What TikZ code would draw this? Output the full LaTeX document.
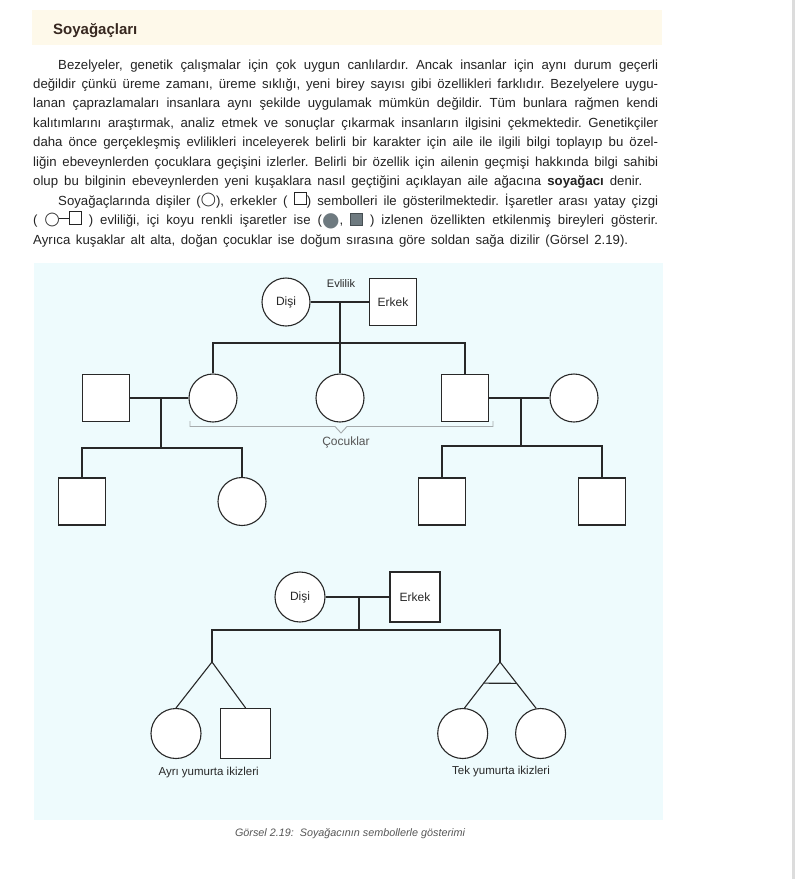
\documentclass[tikz,border=0pt]{standalone}
\usepackage{fontspec}
\setmainfont{Liberation Sans}
\newfontfamily\symfont{DejaVu Sans}
\frenchspacing

\definecolor{bandcream}{RGB}{254,249,234}
\definecolor{skycyan}{RGB}{238,251,253}
\definecolor{bodytext}{RGB}{35,35,35}
\definecolor{titlebrown}{RGB}{55,40,32}
\definecolor{symgrey}{RGB}{110,122,128}
\definecolor{symedge}{RGB}{70,78,82}
\definecolor{pedline}{RGB}{40,40,40}
\definecolor{bracegrey}{RGB}{165,170,172}
\definecolor{capgrey}{RGB}{85,85,85}
\definecolor{edgegrey}{RGB}{220,220,220}

\newcommand{\bodyfont}{\fontsize{13.2}{19.5}\selectfont}
\newcommand{\opencirc}{\raisebox{1.5pt}{\symfont\fontsize{13.5}{14}\selectfont\char"25EF}}
\newcommand{\fullcirc}{\raisebox{-2pt}{\symfont\fontsize{20}{20}\selectfont\color{symgrey}\char"25CF}}
\newcommand{\sqbox}[1]{\hbox{\color{#1}\vrule width 0.9pt\vbox{\hrule height 0.9pt\hbox to 11.5pt{\hfil}\vskip 11.5pt\hrule height 0.9pt}\vrule width 0.9pt}}
\newcommand{\opensq}{\sqbox{bodytext}}
\newcommand{\fullsq}{\raisebox{-1pt}{\hbox{\color{symedge}\vrule width 0.9pt\vbox{\hrule height 0.9pt\hbox{\color{symgrey}\vrule width 11pt height 11pt}\hrule height 0.9pt}\vrule width 0.9pt}}}
\newcommand{\marrsym}{\opencirc\kern-1.2pt\rule[5.5pt]{10pt}{0.9pt}\opensq}

\begin{document}
\begin{tikzpicture}[x=1pt, y=-1pt,
  female/.style={draw=pedline, circle, fill=white, minimum size=48pt, inner sep=0pt, line width=1.1pt, font=\fontsize{12}{14}\selectfont, text=pedline},
  male/.style={draw=pedline, rectangle, fill=white, minimum size=47pt, inner sep=0pt, line width=1.1pt, font=\fontsize{12}{14}\selectfont, text=pedline},
  link/.style={draw=pedline, line width=1.1pt},
  pedlabel/.style={font=\fontsize{12}{14}\selectfont, text=pedline},
  textline/.style={anchor=base west, inner sep=0pt, font=\bodyfont, text=bodytext}]
\useasboundingbox (0,0) rectangle (800,879);
\fill[white] (0,0) rectangle (800,879);
\fill[edgegrey] (792,0) rectangle (795,879);

% header and text
\fill[bandcream] (32,10) rectangle (662,45);
\node[anchor=base west, inner sep=0pt, font=\fontsize{15}{18}\selectfont\bfseries, text=titlebrown] (title) at (53,34) {Soyağaçları};

\node[textline] (l1) at (58,69) {\hbox to 600pt{Bezelyeler, genetik çalışmalar için çok uygun canlılardır. Ancak insanlar için aynı durum geçerli}};
\node[textline] (l2) at (33,88.45) {\hbox to 625pt{değildir çünkü üreme zamanı, üreme sıklığı, yeni birey sayısı gibi özellikleri farklıdır. Bezelyelere uygu-}};
\node[textline] (l3) at (33,107.9) {\hbox to 625pt{lanan çaprazlamaları insanlara aynı şekilde uygulamak mümkün değildir. Tüm bunlara rağmen kendi}};
\node[textline] (l4) at (33,127.35) {\hbox to 625pt{kalıtımlarını araştırmak, analiz etmek ve sonuçlar çıkarmak insanların ilgisini çekmektedir. Genetikçiler}};
\node[textline] (l5) at (33,146.8) {\hbox to 625pt{daha önce gerçekleşmiş evlilikleri inceleyerek belirli bir karakter için aile ile ilgili bilgi toplayıp bu özel-}};
\node[textline] (l6) at (33,166.25) {\hbox to 625pt{liğin ebeveynlerden çocuklara geçişini izlerler. Belirli bir özellik için ailenin geçmişi hakkında bilgi sahibi}};
\node[textline] (l7) at (33,185.7) {\hbox to 609pt{olup bu bilginin ebeveynlerden yeni kuşaklara nasıl geçtiğini açıklayan aile ağacına \textbf{soyağacı} denir.}};
\node[textline] (l8) at (58,205.15) {\hbox to 600pt{Soyağaçlarında dişiler (\opencirc), erkekler ( \opensq) sembolleri ile gösterilmektedir. İşaretler arası yatay çizgi}};
\node[textline] (l9) at (33,224.6) {\hbox to 625pt{( \marrsym{} ) evliliği, içi koyu renkli işaretler ise (\fullcirc, \fullsq{} ) izlenen özellikten etkilenmiş bireyleri gösterir.}};
\node[textline] (l10) at (33,244.05) {\hbox to 595pt{Ayrıca kuşaklar alt alta, doğan çocuklar ise doğum sırasına göre soldan sağa dizilir (Görsel 2.19).}};

% figure
\fill[skycyan] (34,263) rectangle (663,820);

\node[female] (d1) at (286,302) {Dişi};
\node[male] (e1) at (393,302) {Erkek};
\node[pedlabel, font=\fontsize{11}{13}\selectfont] (ev) at (341,284) {Evlilik};
\coordinate (m1) at (340,302);
\coordinate (s1) at (340,343);

\node[male] (p1) at (106,398) {};
\node[female] (c1) at (213,398) {};
\node[female] (c2) at (340,398) {};
\node[male] (c3) at (465,398) {};
\node[female] (p2) at (574,398) {};
\coordinate (m2) at (161,398);
\coordinate (s2) at (161,448);
\coordinate (m3) at (521,398);
\coordinate (s3) at (521,446);

\node[male] (g1) at (82,501.5) {};
\node[female] (g2) at (242,501.5) {};
\node[male] (g3) at (442,501.5) {};
\node[male] (g4) at (602,501.5) {};

\draw[link] (d1) -- (e1);
\draw[link] (m1) -- (c2);
\draw[link] (c1) |- (s1) -| (c3);
\draw[link] (p1) -- (c1);
\draw[link] (m2) -- (s2);
\draw[link] (g1) |- (s2) -| (g2);
\draw[link] (c3) -- (p2);
\draw[link] (m3) -- (s3);
\draw[link] (g3) |- (s3) -| (g4);

\draw[bracegrey, line width=0.9pt] (190,421) -- (190,426.5) -- (335,426.5) -- (341,433) -- (347,426.5) -- (493,426.5) -- (493,421);
\node[pedlabel, text=capgrey] (ck) at (346,442) {Çocuklar};

% twins
\node[female, minimum size=50pt] (d2) at (300,597) {Dişi};
\node[male, minimum size=50pt] (e2) at (415,597) {Erkek};
\coordinate (m4) at (359,597);
\coordinate (s4) at (359,630);
\coordinate (t1) at (212,662);
\coordinate (t2) at (500,662);

\node[female, minimum size=50pt] (tw1) at (176,733.5) {};
\node[male, minimum size=50pt] (tw2) at (245.6,733.5) {};
\node[female, minimum size=50pt] (tw3) at (462.7,733.5) {};
\node[female, minimum size=50pt] (tw4) at (540.6,733.5) {};

\draw[link] (d2) -- (e2);
\draw[link] (m4) -- (s4);
\draw[link] (t1) |- (s4) -| (t2);
\draw[link] (tw1.north) -- (t1) -- (tw2.north);
\draw[link] (t2) -- (tw3.86) coordinate[pos=0.46] (k1);
\draw[link] (t2) -- (tw4.100) coordinate[pos=0.46] (k2);
\draw[link] (k1) -- (k2);

\node[pedlabel, font=\fontsize{11.5}{13}\selectfont] (ay) at (208.6,773) {Ayrı yumurta ikizleri};
\node[pedlabel, font=\fontsize{11.5}{13}\selectfont] (ty) at (501,772) {Tek yumurta ikizleri};

\node[font=\fontsize{10.8}{12}\selectfont\itshape, text=capgrey] (cap) at (350,834) {Görsel 2.19:\ \ Soyağacının sembollerle gösterimi};
\end{tikzpicture}
\end{document}
